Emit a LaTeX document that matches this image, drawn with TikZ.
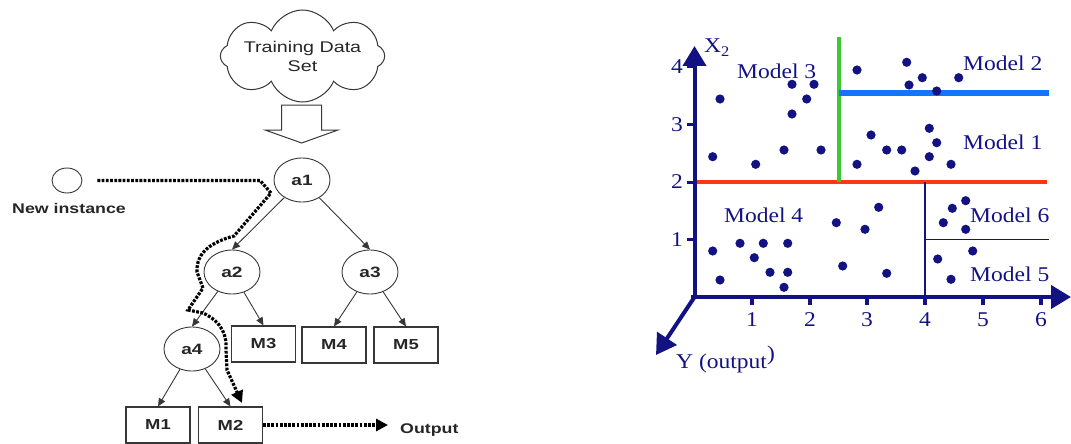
\documentclass[tikz,border=0pt]{standalone}
\usepackage{fontspec}
\setmainfont{Liberation Sans}
\newfontfamily\lsans[FakeStretch=1.27]{Liberation Sans}
\newfontfamily\tserif[FakeStretch=1.12]{Liberation Serif}
\usetikzlibrary{shapes.geometric,shapes.symbols,arrows.meta}
\definecolor{navyc}{RGB}{18,18,130}
\definecolor{gline}{RGB}{55,55,55}
\definecolor{redl}{RGB}{255,55,20}
\definecolor{greenl}{RGB}{60,200,50}
\definecolor{bluel}{RGB}{20,115,255}
\begin{document}
\begin{tikzpicture}[x=1pt,y=-1pt,
  nodeell/.style={draw=gline, line width=0.9pt, ellipse, minimum width=56pt, minimum height=44pt, inner sep=0pt, font=\lsans\bfseries\fontsize{15}{17}\selectfont, text=black!85},
  leafbox/.style={draw=gline, line width=1.1pt, rectangle, minimum width=64pt, minimum height=36pt, inner sep=0pt, font=\lsans\bfseries\fontsize{14.5}{16}\selectfont, text=black!85},
  lbl/.style={inner sep=0pt, font=\lsans\bfseries\fontsize{14}{16}\selectfont, text=black!85},
  edge/.style={draw=gline, line width=0.9pt, -{Triangle[length=8pt,width=7pt]}},
  route/.style={draw=black, line width=3.2pt, dash pattern=on 2.8pt off 1.4pt, -{Triangle[length=12pt,width=12pt]}},
  axisline/.style={draw=navyc, line width=4pt, -{Triangle[length=20pt,width=23pt]}},
  tickl/.style={inner sep=0pt, text=navyc, font=\tserif\fontsize{21}{24}\selectfont},
  modl/.style={inner sep=0pt, anchor=base west, text=navyc, font=\tserif\fontsize{21}{24}\selectfont},
  dot/.style={fill=navyc}
]
\useasboundingbox (0,0) rectangle (1071,444);

% ---------------- left: decision tree ----------------
\node[draw=gline, line width=1pt, cloud, cloud puffs=8, cloud puff arc=135, cloud ignores aspect,
      minimum width=159pt, minimum height=92pt, inner sep=0pt, align=center,
      font=\lsans\fontsize{15.5}{19}\selectfont, text=black!85] (cloud) at (302.5,56) {Training Data\\Set};
\draw[gline, line width=1pt, fill=white] (281.7,105) -- (321.7,105) -- (321.7,130) -- (338,130) -- (301.7,143) -- (265,130) -- (281.7,130) -- cycle;

\node[nodeell] (a1) at (302,180) {a1};
\node[nodeell] (a2) at (232,272) {a2};
\node[nodeell] (a3) at (370,272) {a3};
\node[nodeell] (a4) at (192,349) {a4};
\node[leafbox] (M3) at (263.5,344) {M3};
\node[leafbox] (M4) at (334,345) {M4};
\node[leafbox] (M5) at (406,345) {M5};
\node[leafbox] (M1) at (158,425) {M1};
\node[leafbox] (M2) at (230.5,425) {M2};

\node[draw=gline, line width=0.9pt, ellipse, minimum width=30pt, minimum height=25pt, inner sep=0pt] (nin) at (67,180.5) {};
\node[lbl] (ninl) at (69,208) {New instance};
\node[lbl, anchor=base west] (outl) at (400,433) {Output};

\draw[edge] (a1) -- (a2.north);
\draw[edge] (a1) -- (a3.north);
\draw[edge] (a2) -- (a4.north);
\draw[edge] (a2) -- (M3.north);
\draw[edge] (a3) -- (M4.north);
\draw[edge] (a3) -- (M5.north);
\draw[edge] (a4) -- (M1.north);
\draw[edge] (a4) -- (M2.north);

\draw[route, shorten <=15pt] (nin.east) -- (260,180.5) -- (271,193) -- (234,236)
   .. controls (212,242) and (196,252) .. (197,272) -- (203,288) -- (188,310) -- (203,313)
   .. controls (222,322) and (227,335) .. (226,350) -- (227,370) -- (242,403);
\draw[route, shorten >=12pt] (M2.east) -- (M2.east -| outl.west);

% ---------------- right: partitioned plot ----------------
\draw[redl, line width=4pt] (694.5,182) -- (1047,182);
\draw[greenl, line width=3.5pt] (839,182) -- (839,37);
\draw[bluel, line width=6pt] (839,92.7) -- (1049,92.7);
\draw[navyc, line width=1.5pt] (925,182) -- (925,297);
\draw[navyc, line width=1.5pt] (925,239.5) -- (1049,239.5);

\coordinate (O) at (694.5,297);
\coordinate (Ytip) at (694.5,46);
\coordinate (Xtip) at (1071,297);
\coordinate (Ztip) at (656,355);
\draw[axisline] (O) -- (Ytip);
\draw[axisline, shorten <=-4pt] (O) -- (Xtip);
\draw[axisline] (O) -- (Ztip);

\foreach \xv/\lab in {752/1,810/2,867/3,925/4,983/5,1041/6}{
  \draw[navyc, line width=3.5pt] (\xv,297) -- (\xv,305);
  \node[tickl] (xl\lab) at (\xv,320) {\lab};
}
\foreach \yv/\lab in {239.5/1,182/2,124.5/3,67/4}{
  \draw[navyc, line width=3pt] (687,\yv) -- (694.5,\yv);
  \node[tickl] (yl\lab) at (677,\yv) {\lab};
}

\node[modl] (xtwo) at (704,53) {X\textsubscript{2}};
\node[modl] (ylab) at (676,368) {Y (output\raisebox{8pt}{)}};

\node[modl] (m3) at (737,78.3) {Model 3};
\node[modl] (m2) at (963,70.7) {Model 2};
\node[modl] (m1) at (963,149.3) {Model 1};
\node[modl] (m4) at (724,222.7) {Model 4};
\node[modl] (m6) at (970,222.7) {Model 6};
\node[modl] (m5) at (970,281.7) {Model 5};

\foreach \px/\py in {720/99,712.7/156.7,755.7/164.3,784/150,792/84.3,814/84.3,806.7/99,792/114,821/150,
  857/70,906.7/62.3,909/85,922.3/77.7,936.7/91,958.7/77.7,871/135,857/164.3,886.7/150,901.7/150,
  929.3/128.3,936.7/142.7,929.3/156.7,915/171,951/164.3,
  712.7/251,720/280,740/243.3,754.3/257.7,763.3/243.3,770/272.3,787.7/243.3,787.7/272.3,784/287.3,
  836.3/222.7,842.7/266,865/229.3,878.7/207.3,886.7/273.3,943.3/222.7,952.3/208.3,965.7/200.7,
  965.7/229.3,937.7/259,951/279.3,972.7/251}{
  \fill[dot] (\px,\py) circle (4.6);
}
\end{tikzpicture}
\end{document}
